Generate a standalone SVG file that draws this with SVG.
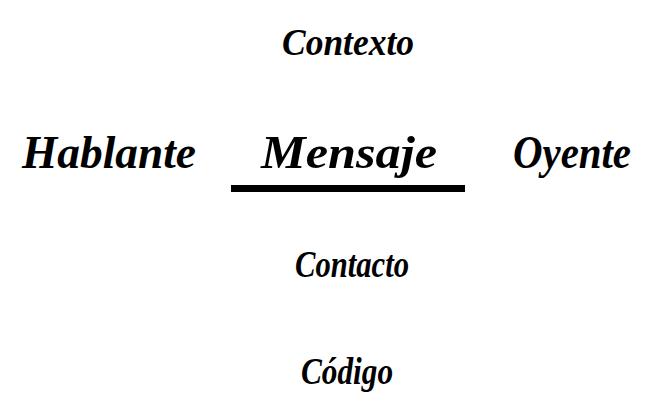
<svg xmlns="http://www.w3.org/2000/svg" width="658" height="409" viewBox="0 0 658 409">
<style>
text{font-family:"Liberation Serif","DejaVu Serif",serif;font-style:italic;font-weight:bold;fill:#000;text-anchor:middle}
.s{font-size:38px}
.l{font-size:46px}
</style>
<rect width="658" height="409" fill="#fff"/>
<g id="contexto"><text class="s" x="348" y="55" textLength="132" lengthAdjust="spacingAndGlyphs">Contexto</text></g>
<g id="hablante"><text class="l" x="109" y="168" textLength="174" lengthAdjust="spacingAndGlyphs">Hablante</text></g>
<g id="mensaje"><text class="l" x="349" y="168" textLength="176" lengthAdjust="spacingAndGlyphs">Mensaje</text></g>
<g id="oyente"><text class="l" x="572" y="168" textLength="118" lengthAdjust="spacingAndGlyphs">Oyente</text></g>
<g id="contacto"><text class="s" x="352" y="277" textLength="114" lengthAdjust="spacingAndGlyphs">Contacto</text></g>
<g id="codigo"><text class="s" x="347" y="384" textLength="92" lengthAdjust="spacingAndGlyphs">Código</text></g>
<g id="connectors"><rect x="231" y="185" width="234" height="7" fill="#000"/></g>
</svg>
